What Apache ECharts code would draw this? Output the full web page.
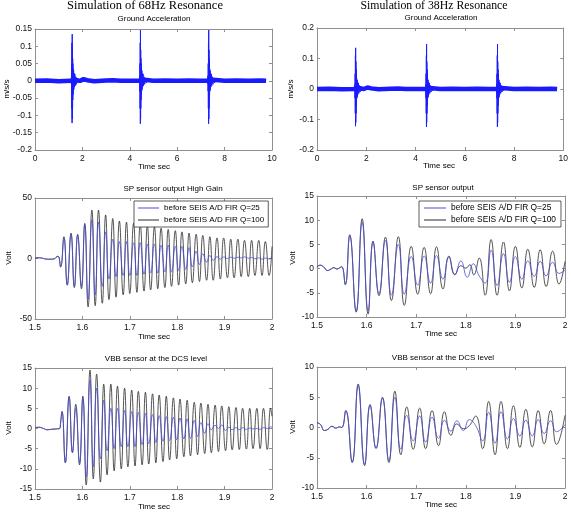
<!DOCTYPE html>
<html><head><meta charset="utf-8">
<script src="https://cdn.jsdelivr.net/npm/echarts@6/dist/echarts.min.js"></script>
<style>html,body{margin:0;padding:0;background:#fff}#c{width:571px;height:512px}</style>
</head><body><div id="c"></div>
<script>
// ---------------- DATA ----------------
const Q25 = 'before SEIS A/D FIR Q=25';
const Q100 = 'before SEIS A/D FIR Q=100';

// Ground acceleration (m/s/s), same record in both columns
const groundBaseline = [[0,0],[0.5,0.001],[1.0,-0.001],[1.5,0],[1.7,0.003],[1.9,0],[2.05,0.005],[2.12,0.008],[2.2,0.002],[2.5,-0.001],[3.0,0.001],[3.3,0.002],[3.6,0],[4.0,0],[4.4,0],[4.6,0.003],[5.0,0],[5.5,0.001],[6.0,0],[6.5,0.001],[7.0,0],[7.3,0],[7.5,0.003],[8.0,0],[8.5,0.001],[9.0,0],[9.5,0.001],[9.75,0]];
const groundSpike1 = [[1.50,0],[1.52,0.006],[1.53,-0.008],[1.54,0.015],[1.545,-0.03],[1.55,0.05],[1.555,-0.08],[1.56,0.11],[1.565,-0.122],[1.57,0.135],[1.575,-0.11],[1.58,0.09],[1.585,-0.08],[1.59,0.065],[1.595,-0.055],[1.60,0.05],[1.605,-0.04],[1.61,0.035],[1.62,-0.03],[1.63,0.03],[1.64,-0.025],[1.65,0.022],[1.66,-0.018],[1.68,0.02],[1.70,-0.014],[1.72,0.012],[1.75,-0.01],[1.78,0.008],[1.82,-0.006],[1.86,0.005],[1.90,0]];
const groundSpike2 = [[4.38,0],[4.40,0.006],[4.41,-0.008],[4.42,0.015],[4.425,-0.03],[4.43,0.05],[4.435,-0.08],[4.44,0.11],[4.445,-0.124],[4.45,0.147],[4.455,-0.11],[4.46,0.09],[4.465,-0.08],[4.47,0.065],[4.475,-0.055],[4.48,0.05],[4.485,-0.04],[4.49,0.035],[4.50,-0.03],[4.51,0.03],[4.52,-0.025],[4.53,0.022],[4.54,-0.018],[4.56,0.02],[4.58,-0.014],[4.60,0.012],[4.63,-0.01],[4.66,0.008],[4.70,-0.006],[4.74,0.005],[4.78,0]];
const groundSpike3 = [[7.26,0],[7.28,0.006],[7.29,-0.008],[7.30,0.015],[7.305,-0.03],[7.31,0.05],[7.315,-0.08],[7.32,0.11],[7.325,-0.124],[7.33,0.147],[7.335,-0.11],[7.34,0.09],[7.345,-0.08],[7.35,0.065],[7.355,-0.055],[7.36,0.05],[7.365,-0.04],[7.37,0.035],[7.38,-0.03],[7.39,0.03],[7.40,-0.025],[7.41,0.022],[7.42,-0.018],[7.44,0.02],[7.46,-0.014],[7.48,0.012],[7.51,-0.01],[7.54,0.008],[7.58,-0.006],[7.62,0.005],[7.66,0]];

// 68 Hz, SP sensor output High Gain (Volt): extrema times and values
const sp68Pre = [[1.5,0.2],[1.506,0.6],[1.514,0.4],[1.522,-0.4],[1.532,-0.6],[1.541,-0.2],[1.546,1.5],[1.549,1.8]];
const sp68Time = [1.554,1.561,1.568,1.576,1.583,1.590,1.598,1.605,1.612,1.620,1.627,1.634,1.642,1.649,1.656,1.664,1.671,1.678,1.686,1.693,1.700,1.708,1.715,1.722,1.730,1.737,1.744,1.752,1.759,1.766,1.774,1.781,1.788,1.796,1.803,1.810,1.818,1.825,1.832,1.840,1.847,1.854,1.862,1.869,1.876,1.884,1.891,1.898,1.906,1.913,1.920,1.928,1.935,1.942,1.950,1.957,1.964,1.972,1.979,1.986,1.994];
const sp68Q100 = [-7,18,-22,21,-24,20,-25,29,-40,40,-39,40,-37,36,-34,33,-32,31,-30,30,-29,29,-28,28,-27,27,-26,26,-25,25,-24,24,-23,23,-22,22,-21,21,-20,20,-19,19,-18,18,-18,17,-17,17,-16,16,-16,16,-15,15,-15,15,-14,15,-14,14,-14];
const sp68Q25 = [-7,17,-22,20,-23,19,-23,28,-34,32,-30,30,-23,22,-17,16,-15,14,-14,14,-14,13,-14,13,-13,12,-12,12,-12,11,-11,11,-11,10,-10,10,-9,9,-7,6,-5,4,-3,2.5,-1.5,1.5,-0.5,1.2,0,1,0.2,1,0.5,1.3,0.2,0.8,-0.2,0.5,-0.5,0.3,-0.4];
const sp68Q100End = [[2.0,10]];
const sp68Q25End = [[2.0,1]];

// 38 Hz, SP sensor output (Volt)
const sp38Q100 = [[1.500,0.3],[1.506,0.7],[1.513,0.4],[1.521,-0.4],[1.528,-0.1],[1.534,0.2],[1.540,-0.1],[1.546,0.2],[1.550,0.4],[1.557,-3.3],[1.566,7.0],[1.579,-9.0],[1.591,10.3],[1.603,-9.4],[1.613,5.7],[1.625,-5.6],[1.638,6.5],[1.650,-6.6],[1.664,6.6],[1.676,-7.6],[1.690,4.6],[1.703,-5.3],[1.716,4.4],[1.729,-5.2],[1.741,4.5],[1.754,-4.2],[1.766,2.6],[1.778,-1.3],[1.790,0.6],[1.800,0.1],[1.808,0.8],[1.816,-1.3],[1.827,2.2],[1.839,-5.5],[1.851,6.0],[1.863,-5.5],[1.876,5.5],[1.888,-4.6],[1.900,4.6],[1.913,-4.0],[1.925,4.0],[1.938,-3.9],[1.950,3.9],[1.962,-3.7],[1.975,3.6],[1.988,-3.2],[2.000,1.5]];
const sp38Q25 = [[1.500,0.3],[1.506,0.7],[1.513,0.4],[1.521,-0.4],[1.528,-0.1],[1.534,0.2],[1.540,-0.1],[1.546,0.2],[1.550,0.4],[1.557,-3.3],[1.566,6.8],[1.579,-8.8],[1.591,9.6],[1.603,-8.7],[1.613,5.4],[1.625,-5.2],[1.638,5.8],[1.650,-5.5],[1.664,5.0],[1.676,-5.3],[1.690,2.5],[1.703,-3.4],[1.716,2.6],[1.729,-3.0],[1.741,2.7],[1.754,-2.2],[1.766,2.4],[1.778,-1.2],[1.790,1.6],[1.803,-1.8],[1.815,1.0],[1.827,-1.5],[1.839,-3.0],[1.851,3.8],[1.863,-3.5],[1.876,3.1],[1.888,-2.8],[1.900,2.5],[1.913,-2.2],[1.925,1.6],[1.938,-1.6],[1.950,1.5],[1.962,-1.5],[1.975,1.3],[1.988,-1.0],[2.000,-0.3]];

// 68 Hz, VBB sensor at the DCS level (Volt)
const vbb68Pre = [[1.5,0.2],[1.508,0.3],[1.518,0],[1.525,-0.3],[1.535,-0.2],[1.545,-0.1],[1.552,0],[1.554,1.5]];
const vbb68Time = [1.557,1.564,1.572,1.579,1.586,1.594,1.601,1.608,1.616,1.623,1.630,1.638,1.645,1.652,1.660,1.667,1.674,1.682,1.689,1.696,1.704,1.711,1.718,1.726,1.733,1.740,1.748,1.755,1.762,1.770,1.777,1.784,1.792,1.799,1.806,1.814,1.821,1.828,1.836,1.843,1.850,1.858,1.865,1.872,1.880,1.887,1.894,1.902,1.909,1.916,1.924,1.931,1.938,1.946,1.953,1.960,1.968,1.975,1.982,1.990,1.997];
const vbb68Q100 = [4.2,-8.5,8,-6,6,-9,8,-14,14.5,-12.5,13.5,-13.3,11,-11.5,11,-10.5,10.5,-10,10,-9.5,9.5,-9.3,9.2,-9,9,-8.8,8.6,-8.5,8.3,-8.2,8,-7.8,7.6,-7.5,7.3,-7,7,-6.8,6.5,-6.5,6.3,-6.2,6,-6,5.8,-5.7,5.6,-5.5,5.4,-5.3,5.2,-5.2,5,-5.1,5,-5,5,-5,5,-5.2,5];
const vbb68Q25 = [4.2,-8.5,7.8,-6,5,-8.5,7.5,-12,12,-9.5,10,-7.5,7,-5.5,5,-5,5,-4.5,4.5,-4.5,4.2,-4.5,4,-4,3.8,-3.8,3.5,-3.5,3.2,-3.2,3,-3,2.8,-2.8,2.6,-2.6,2.4,-2.5,2.0,-2,1.5,-1.2,1.2,-0.3,0.8,0,0.9,-0.5,0.3,-0.3,0.2,-0.3,0.2,-0.2,0.1,-0.1,0,-0.2,0.2,0,0.4];
const vbb68End = [[2.0,3]];
const vbb68Q25End = [[2.0,0.3]];

// 38 Hz, VBB sensor at the DCS level (Volt)
const vbb38Q100 = [[1.500,0.8],[1.507,0.5],[1.515,-0.5],[1.522,-0.3],[1.530,0.2],[1.538,-0.1],[1.545,0.1],[1.550,0.0],[1.558,2.8],[1.571,-5.8],[1.583,7.2],[1.596,-6.3],[1.607,3.8],[1.619,-3.5],[1.632,5.0],[1.645,-5.8],[1.657,6.0],[1.669,-4.5],[1.681,3.4],[1.694,-3.6],[1.707,3.2],[1.719,-3.5],[1.732,2.8],[1.745,-3.0],[1.757,2.6],[1.770,-1.3],[1.782,0.6],[1.795,-0.2],[1.807,0.3],[1.820,1.9],[1.834,-3.5],[1.846,4.3],[1.859,-4.5],[1.871,4.3],[1.884,-3.5],[1.896,3.6],[1.909,-3.3],[1.921,3.0],[1.934,-3.2],[1.946,2.8],[1.958,-2.7],[1.971,2.8],[1.983,-2.8],[2.000,2.0]];
const vbb38Q25 = [[1.500,0.8],[1.507,0.5],[1.515,-0.5],[1.522,-0.3],[1.530,0.2],[1.538,-0.1],[1.545,0.1],[1.550,0.0],[1.558,2.8],[1.571,-5.7],[1.583,6.9],[1.596,-6.1],[1.607,3.6],[1.619,-3.4],[1.632,4.8],[1.645,-5.5],[1.657,5.0],[1.669,-3.6],[1.681,2.0],[1.694,-2.2],[1.707,1.9],[1.719,-2.4],[1.732,1.7],[1.745,-1.8],[1.757,1.2],[1.770,-0.6],[1.782,1.1],[1.795,-0.5],[1.807,1.3],[1.820,0.3],[1.834,-2.2],[1.846,2.5],[1.859,-2.6],[1.871,2.6],[1.884,-1.9],[1.896,1.5],[1.909,-1.4],[1.921,1.2],[1.934,-1.4],[1.946,1.3],[1.958,-1.0],[1.971,1.1],[1.983,-0.7],[2.000,0.5]];

// Axis ranges [min, max, interval]
const xRanges = [[0,10,2],[0,10,2],[1.5,2,0.1],[1.5,2,0.1],[1.5,2,0.1],[1.5,2,0.1]];
const yRanges = [[-0.2,0.15,0.05],[-0.2,0.2,0.1],[-50,50,50],[-10,15,5],[-15,15,5],[-10,10,5]];

// ---------------- CHART ----------------
const SANS = 'Liberation Sans, Arial, Helvetica, sans-serif';
const SERIF = 'Liberation Serif, Times New Roman, serif';
const AX = '#8f8f8f';
const BLUE_G = '#1a1aff';
const BLUE = '#4b4bd6';
const BLACK = '#2a2a2a';

const zip = (ts, vs) => ts.map((t, i) => [t, vs[i]]);

const grids = [
  {left:35, top:29, width:237, height:121},
  {left:317, top:28, width:248, height:122},
  {left:35, top:198, width:237, height:121},
  {left:317, top:196, width:248, height:121},
  {left:35, top:368, width:237, height:121},
  {left:317, top:367, width:248, height:121}
];

const xAxes = [], yAxes = [];
grids.forEach((g, i) => {
  const [x0, x1, xi] = xRanges[i];
  const [y0, y1, yi] = yRanges[i];
  const common = {type:'value', gridIndex:i, splitLine:{show:false},
    axisLine:{show:true, onZero:false, lineStyle:{color:AX, width:1}},
    axisTick:{show:true, inside:true, length:3, lineStyle:{color:AX}}};
  xAxes.push(Object.assign({}, common, {position:'bottom', min:x0, max:x1, interval:xi,
    axisLabel:{fontSize:8.5, color:'#111', margin:4, fontFamily:SANS}}));
  xAxes.push(Object.assign({}, common, {position:'top', min:x0, max:x1, interval:xi, axisLabel:{show:false}}));
  yAxes.push(Object.assign({}, common, {position:'left', min:y0, max:y1, interval:yi,
    axisLabel:{fontSize:8.5, color:'#111', margin:3, fontFamily:SANS}}));
  yAxes.push(Object.assign({}, common, {position:'right', min:y0, max:y1, interval:yi, axisLabel:{show:false}}));
});

function line(name, data, gi, color, width, z) {
  return {type:'line', name, data, xAxisIndex:gi*2, yAxisIndex:gi*2, showSymbol:false, symbol:'none',
    smooth:true, lineStyle:{color, width}, itemStyle:{color}, z, animation:false, silent:true};
}
function rough(name, data, gi, color, width) {
  return {type:'line', name, data, xAxisIndex:gi*2, yAxisIndex:gi*2, showSymbol:false, symbol:'none',
    lineStyle:{color, width}, itemStyle:{color}, animation:false, silent:true};
}

const series = [];
[0,1].forEach(gi => {
  series.push(rough('Ground Acceleration', groundBaseline, gi, BLUE_G, 4.5));
  series.push(rough('Ground Acceleration', groundSpike1, gi, BLUE_G, 1));
  series.push(rough('Ground Acceleration', groundSpike2, gi, BLUE_G, 1));
  series.push(rough('Ground Acceleration', groundSpike3, gi, BLUE_G, 1));
});
series.push(line(Q100, sp68Pre.concat(zip(sp68Time, sp68Q100), sp68Q100End), 2, BLACK, 0.8, 2));
series.push(line(Q25, sp68Pre.concat(zip(sp68Time, sp68Q25), sp68Q25End), 2, BLUE, 0.8, 3));
series.push(line(Q100, sp38Q100, 3, BLACK, 0.8, 2));
series.push(line(Q25, sp38Q25, 3, BLUE, 0.8, 3));
series.push(line(Q100, vbb68Pre.concat(zip(vbb68Time, vbb68Q100), vbb68End), 4, BLACK, 0.8, 2));
series.push(line(Q25, vbb68Pre.concat(zip(vbb68Time, vbb68Q25), vbb68Q25End), 4, BLUE, 0.8, 3));
series.push(line(Q100, vbb38Q100, 5, BLACK, 0.8, 2));
series.push(line(Q25, vbb38Q25, 5, BLUE, 0.8, 3));

function legendAt(left, top, fs, iw, pad) {
  return {left, top, orient:'vertical', data:[Q25, Q100], icon:'rect', itemWidth:iw, itemHeight:1,
    itemGap:4, padding:pad, backgroundColor:'#fff', borderColor:'#333', borderWidth:0.8,
    textStyle:{fontSize:fs, color:'#000', fontFamily:SANS}, selectedMode:false, z:10};
}

function txt(x, y, text, size, family, rot) {
  return {type:'text', x, y, rotation: rot || 0, z:20,
    style:{text, fill:'#000', font: size + 'px ' + family, textAlign:'center', textVerticalAlign:'middle'}};
}

const graphics = [
  txt(145, 6, 'Simulation of 68Hz Resonance', 12.5, SERIF),
  txt(434, 6, 'Simulation of 38Hz Resonance', 11.8, SERIF),
  txt(154, 19, 'Ground Acceleration', 8, SANS),
  txt(441, 18, 'Ground Acceleration', 8, SANS),
  txt(173, 189, 'SP sensor output High Gain', 8, SANS),
  txt(443, 187.5, 'SP sensor output', 8, SANS),
  txt(156, 359, 'VBB sensor at the DCS level', 8, SANS),
  txt(443, 357.5, 'VBB sensor at the DCS level', 8, SANS),
  txt(154, 167, 'Time sec', 8, SANS),
  txt(439, 166, 'Time sec', 8, SANS),
  txt(154, 337, 'Time sec', 8, SANS),
  txt(441, 334, 'Time sec', 8, SANS),
  txt(154, 507, 'Time sec', 8, SANS),
  txt(441, 505, 'Time sec', 8, SANS),
  txt(7, 89, 'm/s/s', 8, SANS, Math.PI/2),
  txt(291, 89, 'm/s/s', 8, SANS, Math.PI/2),
  txt(9, 258, 'Volt', 8, SANS, Math.PI/2),
  txt(293, 258, 'Volt', 8, SANS, Math.PI/2),
  txt(9, 428, 'Volt', 8, SANS, Math.PI/2),
  txt(293, 427, 'Volt', 8, SANS, Math.PI/2)
];

const chart = echarts.init(document.getElementById('c'), null, {renderer:'canvas'});
chart.setOption({
  backgroundColor:'#fff',
  animation:false,
  textStyle:{fontFamily:SANS},
  grid: grids,
  xAxis: xAxes,
  yAxis: yAxes,
  legend: [legendAt(134, 201, 8, 21, [3,4,3,4]), legendAt(419, 201, 8.4, 22, [3,5,3,5])],
  graphic: graphics,
  series
});
</script></body></html>
